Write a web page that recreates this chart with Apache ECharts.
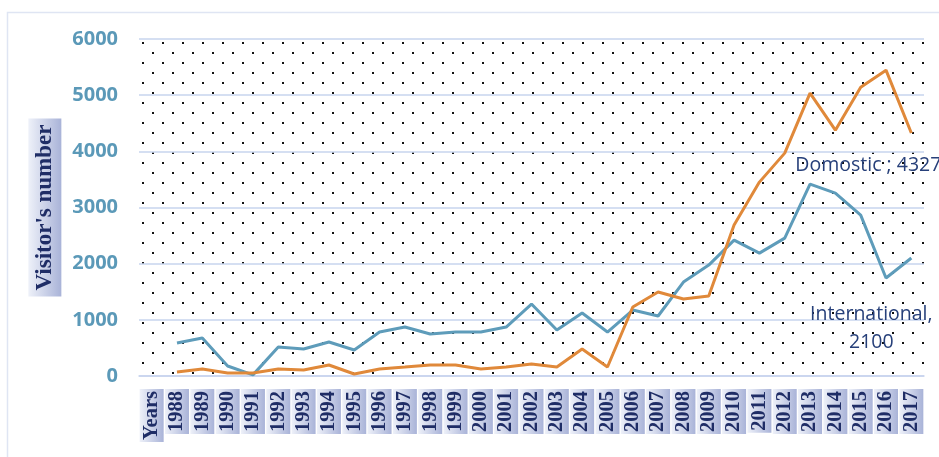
<!DOCTYPE html>
<html>
<head>
<meta charset="utf-8">
<script src="https://cdn.jsdelivr.net/npm/echarts@6/dist/echarts.min.js"></script>
<style>
  html, body { margin: 0; padding: 0; background: #ffffff; }
  #chart { width: 939px; height: 457px; }
</style>
</head>
<body>
<div id="chart"></div>
<script>
const categories = ['Years', '1988', '1989', '1990', '1991', '1992', '1993', '1994', '1995', '1996', '1997',
  '1998', '1999', '2000', '2001', '2002', '2003', '2004', '2005', '2006', '2007',
  '2008', '2009', '2010', '2011', '2012', '2013', '2014', '2015', '2016', '2017'];
const international = [null, 587, 676, 178, 20, 516, 480, 605, 463, 783, 872, 747, 783, 783, 872, 1281, 818, 1121, 783, 1174, 1068, 1673, 1975, 2420, 2188, 2455, 3416, 3256, 2865, 1744, 2100];
const domestic = [null, 71, 125, 53, 55, 125, 107, 196, 36, 125, 160, 196, 196, 125, 160, 214, 160, 480, 160, 1228, 1495, 1370, 1423, 2687, 3452, 3968, 5036, 4377, 5142, 5445, 4327];
const yTicks = [0, 1000, 2000, 3000, 4000, 5000, 6000];
const domesticLabel = 'Domostic ; 4327';
const internationalLabel = 'International,\n2100';

// dotted pattern tile for plot area
const tile = document.createElement('canvas');
tile.width = 20; tile.height = 20;
const tc = tile.getContext('2d');
tc.fillStyle = '#111111';
tc.fillRect(2, 2, 2, 2);
tc.fillRect(12, 12, 2, 2);

const boxGradient = {
  type: 'linear', x: 0, y: 0, x2: 0, y2: 1,
  colorStops: [{ offset: 0, color: '#eef1f9' }, { offset: 1, color: '#a9b3d8' }]
};

const chart = echarts.init(document.getElementById('chart'), null, { renderer: 'canvas' });
chart.setOption({
  animation: false,
  backgroundColor: '#ffffff',
  graphic: [{
    type: 'rect', silent: true, z: -10,
    shape: { x: 7.5, y: 12.5, width: 1200, height: 1200 },
    style: { fill: 'none', stroke: '#dfe5f3', lineWidth: 1.5 }
  }],
  grid: {
    left: 139, right: 15, top: 39, bottom: 81,
    show: true, borderWidth: 0,
    backgroundColor: { image: tile, repeat: 'repeat' }
  },
  xAxis: {
    type: 'category',
    data: categories,
    boundaryGap: true,
    axisLine: { show: true, lineStyle: { color: '#c7d4ee', width: 1.5 } },
    axisTick: { show: false },
    axisLabel: {
      interval: 0,
      rotate: 90,
      margin: 13,
      fontFamily: 'Liberation Serif',
      fontWeight: 'bold',
      fontSize: 20.5,
      color: '#1f2d66',
      lineHeight: 22,
      padding: [1, 2, 1, 2],
      backgroundColor: boxGradient
    }
  },
  yAxis: {
    type: 'value',
    min: 0, max: 6000, interval: 1000,
    name: "Visitor's number",
    nameLocation: 'middle',
    nameGap: 74,
    nameRotate: 90,
    nameTextStyle: {
      fontFamily: 'Liberation Serif',
      fontWeight: 'bold',
      fontSize: 23,
      color: '#1f2d66',
      lineHeight: 27,
      padding: [3, 6, 3, 6],
      backgroundColor: boxGradient
    },
    axisLine: { show: false },
    axisTick: { show: false },
    axisLabel: {
      margin: 21,
      fontFamily: 'Open Sans',
      fontWeight: 'bold',
      fontSize: 20,
      color: '#5b99b8',
      formatter: function (v) { return yTicks.indexOf(v) >= 0 ? String(v) : ''; }
    },
    splitLine: { show: true, lineStyle: { color: '#c7d4ee', width: 1.5 } }
  },
  series: [
    {
      name: 'International',
      type: 'line',
      data: international,
      showSymbol: false,
      symbol: 'none',
      connectNulls: false,
      lineStyle: { color: '#5e9cba', width: 3 },
      itemStyle: { color: '#5e9cba' },
      endLabel: {
        show: true,
        formatter: internationalLabel,
        distance: 0,
        align: 'center',
        verticalAlign: 'middle',
        offset: [-40, 70],
        fontFamily: 'Open Sans',
        fontSize: 19.5,
        lineHeight: 28,
        color: '#27407a'
      }
    },
    {
      name: 'Domestic',
      type: 'line',
      data: domestic,
      showSymbol: false,
      symbol: 'none',
      lineStyle: { color: '#e0893a', width: 3 },
      itemStyle: { color: '#e0893a' },
      endLabel: {
        show: true,
        formatter: domesticLabel,
        distance: 0,
        align: 'left',
        verticalAlign: 'middle',
        offset: [-116, 32],
        fontFamily: 'Open Sans',
        fontSize: 19.5,
        color: '#27407a'
      }
    }
  ]
});
</script>
</body>
</html>
